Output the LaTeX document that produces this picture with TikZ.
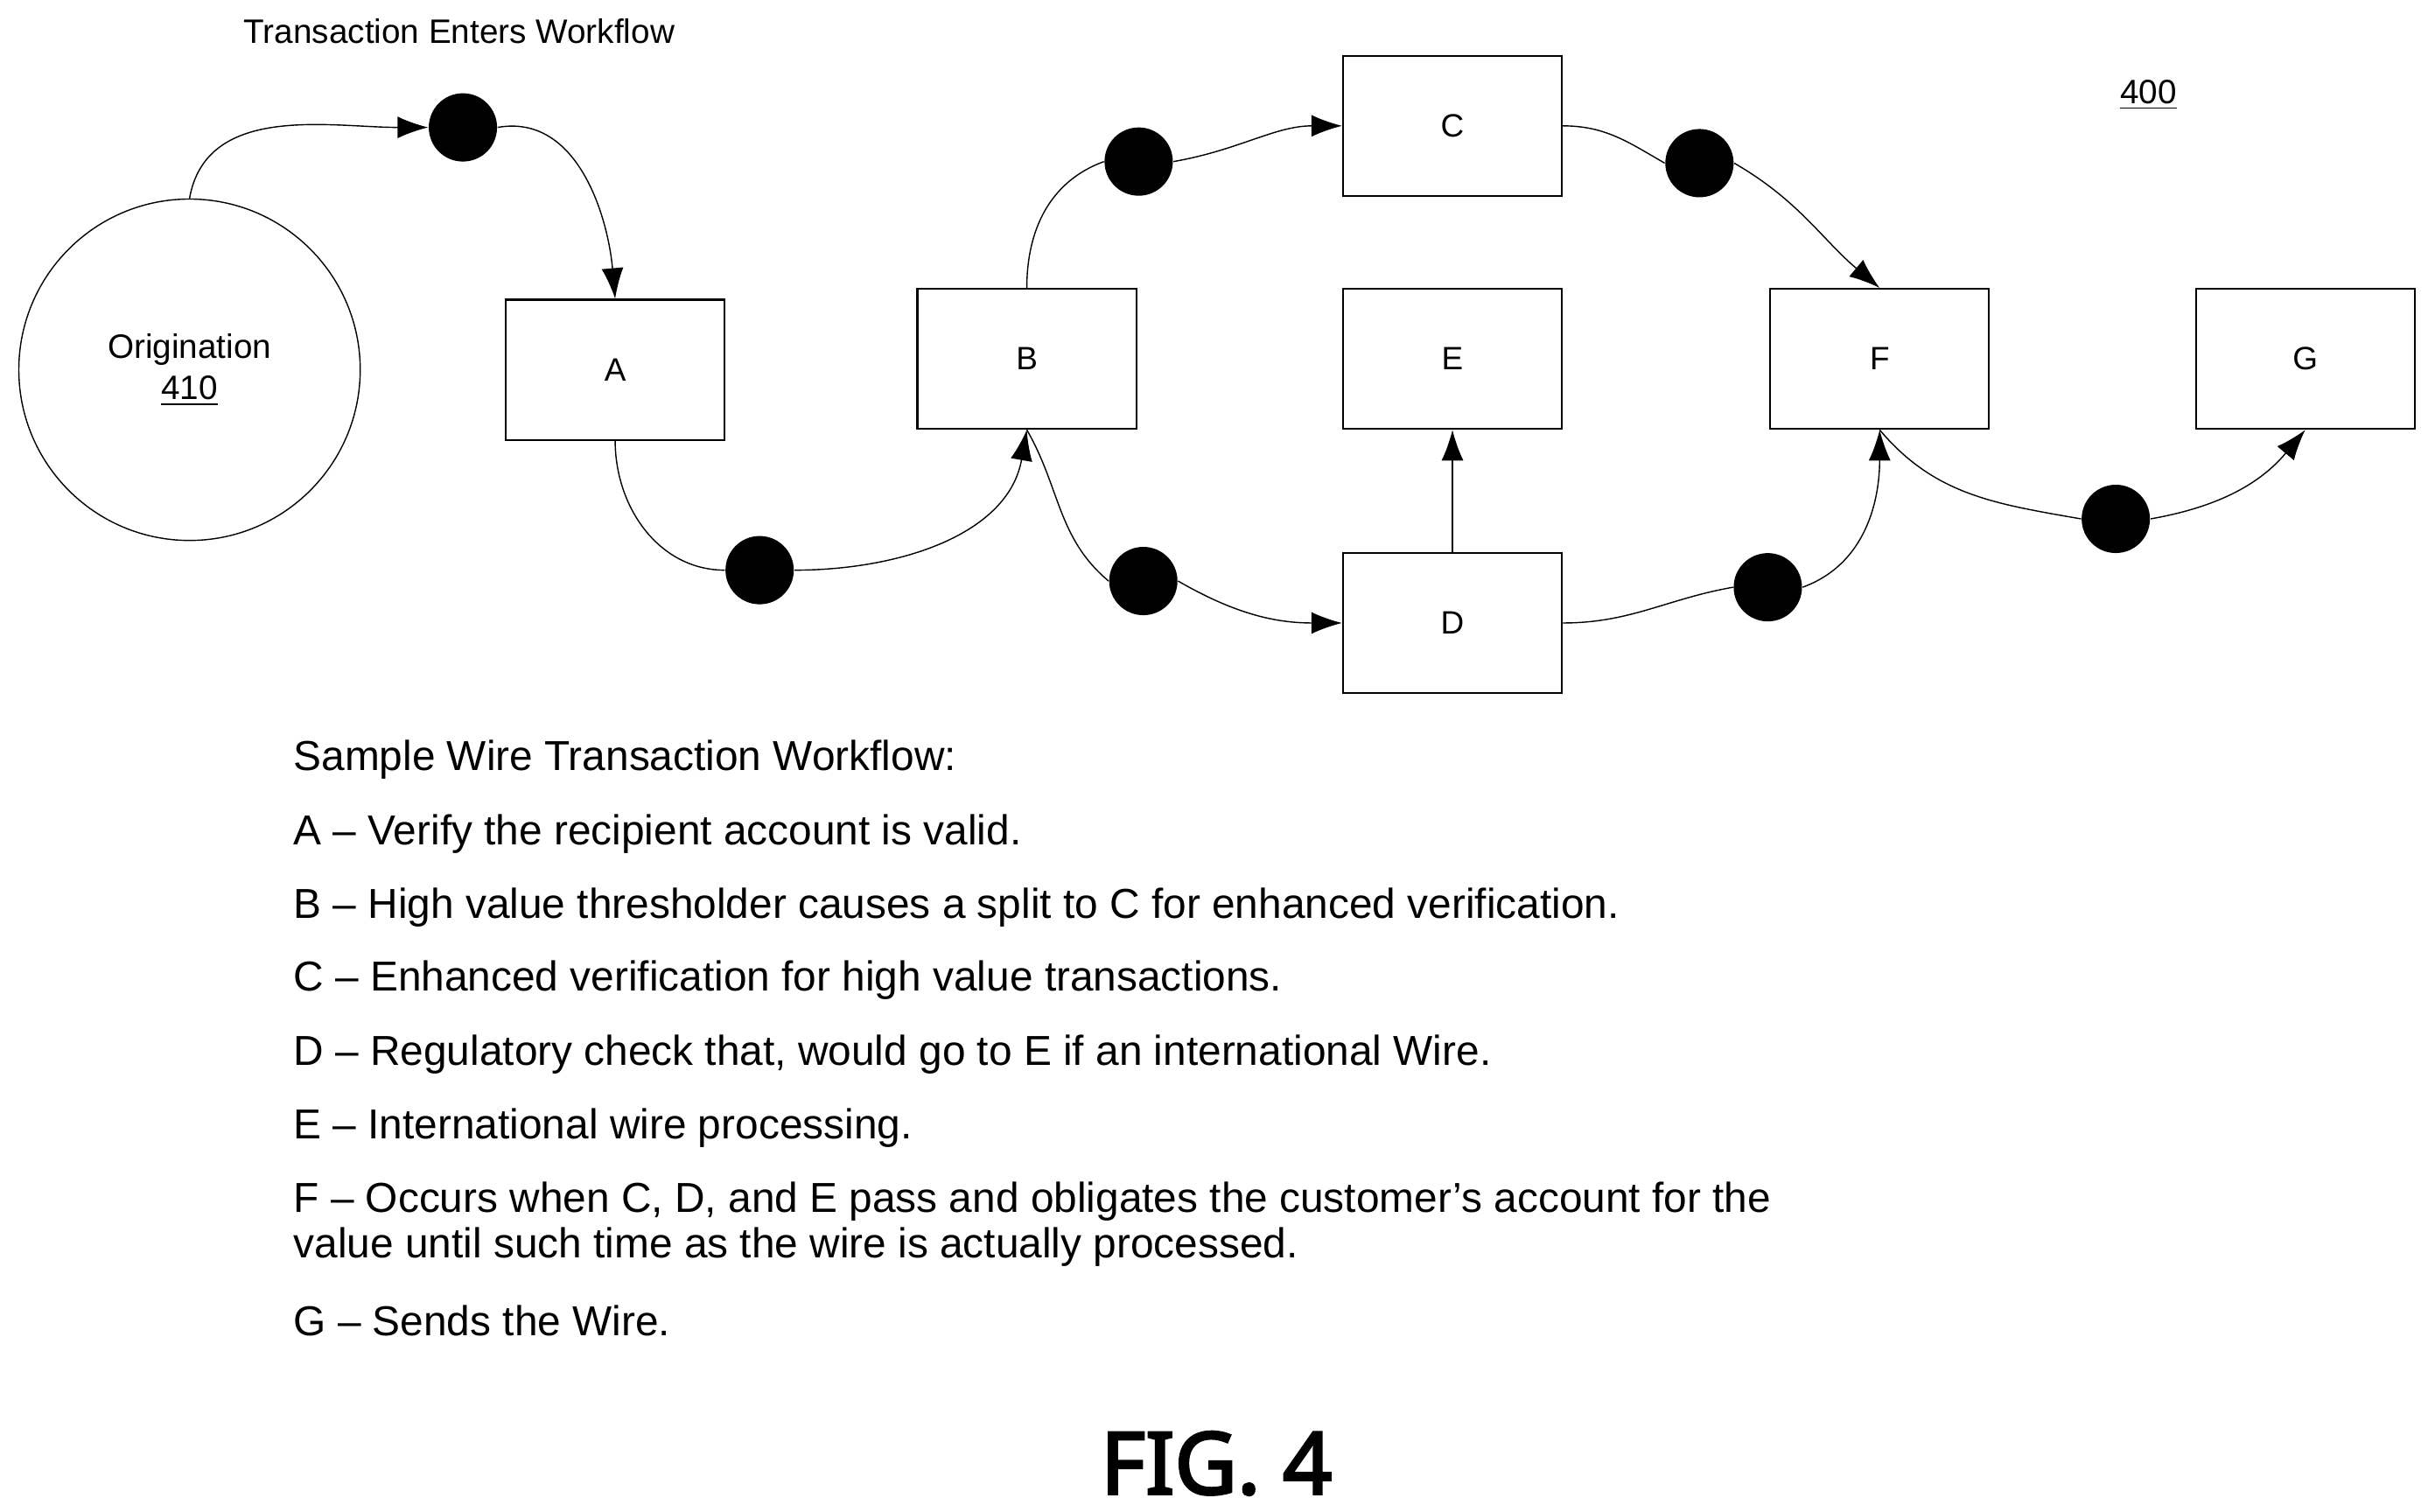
\documentclass[tikz,border=0pt]{standalone}
\usepackage{fontspec}
\setmainfont{Liberation Sans}
\newfontfamily\figfont[FakeBold=3]{Noto Sans}
\usetikzlibrary{arrows.meta,positioning}
\tikzset{
  stage/.style={draw,semithick,minimum width=2.5cm,minimum height=1.6cm,font=\fontsize{10.5pt}{12pt}\selectfont},
  token/.style={circle,fill=black,minimum size=0.78cm,inner sep=0pt},
  flow/.style={-{Latex[length=3.5mm,width=2.5mm]},thin},
  note/.style={anchor=west,align=left,font=\fontsize{13.6pt}{15pt}\selectfont}
}
\begin{document}
\begin{tikzpicture}[x=0.01775cm,y=-0.01775cm]
  \useasboundingbox (0,0) rectangle (1563,973);
  % workflow states
  \node (orig)[circle,draw,thin,minimum size=3.9cm,align=center,font=\fontsize{11pt}{13.5pt}\selectfont] at (122,238) {Origination\\\underline{410}};
  \node (A)[stage] at (396,238) {A};
  \node (B)[stage] at (661,231) {B};
  \node (C)[stage] at (935,81) {C};
  \node (E)[stage] at (935,231) {E};
  \node (D)[stage] at (935,401) {D};
  \node (F)[stage] at (1210,231) {F};
  \node (G)[stage] at (1484,231) {G};
  % tokens
  \node (t1)[token] at (298,82) {};
  \node (t2)[token] at (489,367) {};
  \node (t3)[token] at (733,104) {};
  \node (t4)[token] at (736,374) {};
  \node (t5)[token] at (1094,105) {};
  \node (t6)[token] at (1138,378) {};
  \node (t7)[token] at (1362,334) {};
  % connectors
  \draw[flow] (orig.north) to[out=80,in=180] (t1.west);
  \draw[flow] (t1.east) to[out=10,in=95] (A.north);
  \draw[thin] (A.south) to[out=-90,in=180] (t2.west);
  \draw[flow] (t2.east) to[out=0,in=-100] (B.south);
  \draw[thin] (B.north) to[out=90,in=200] (t3.west);
  \draw[flow] (t3.east) to[out=10,in=180] (C.west);
  \draw[thin] (B.south) to[out=-60,in=140] (t4.west);
  \draw[flow] (t4.east) to[out=-30,in=180] (D.west);
  \draw[thin] (C.east) to[out=0,in=150] (t5.west);
  \draw[flow] (t5.east) to[out=-30,in=140] (F.north);
  \draw[flow] (D.north) -- (E.south);
  \draw[thin] (D.east) to[out=0,in=190] (t6.west);
  \draw[flow] (t6.east) to[out=20,in=-90] (F.south);
  \draw[thin] (F.south) to[out=-50,in=170] (t7.west);
  \draw[flow] (t7.east) to[out=10,in=-130] (G.south);
  % labels
  \node (entry)[anchor=west,font=\fontsize{11pt}{12pt}\selectfont] at (150,20) {Transaction Enters Workflow};
  \node (ref)[font=\fontsize{11pt}{12pt}\selectfont] at (1383,61) {\underline{400}};
  \node (n0)[note] at (182,489) {Sample Wire Transaction Workflow:};
  \node (n1)[note] at (182,537) {A -- Verify the recipient account is valid.};
  \node (n2)[note] at (182,584) {B -- High value thresholder causes a split to C for enhanced verification.};
  \node (n3)[note] at (182,631) {C -- Enhanced verification for high value transactions.};
  \node (n4)[note] at (182,679) {D -- Regulatory check that, would go to E if an international Wire.};
  \node (n5)[note] at (182,726) {E -- International wire processing.};
  \node (n6)[note] at (182,788) {F -- Occurs when C, D, and E pass and obligates the customer’s account for the\\value until such time as the wire is actually processed.};
  \node (n7)[note] at (182,850) {G -- Sends the Wire.};
  \node (fig)[font=\figfont\bfseries\fontsize{28pt}{30pt}\selectfont] at (783,942) {FIG. 4};
\end{tikzpicture}
\end{document}
